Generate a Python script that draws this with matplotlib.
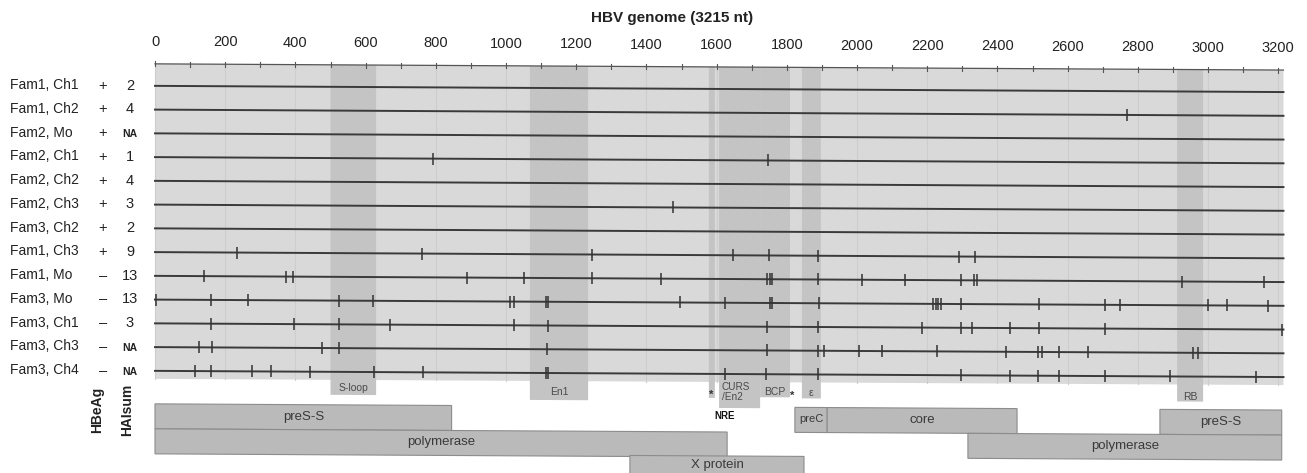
import numpy as np
import matplotlib
matplotlib.use("Agg")
import matplotlib.pyplot as plt
import matplotlib.transforms as mtransforms
from matplotlib.patches import Rectangle

plt.rcParams['font.family'] = ['Liberation Sans', 'DejaVu Sans']

# ---------------- data ----------------
GENOME_LEN = 3215
title = "HBV genome (3215 nt)"

samples = ["Fam1, Ch1", "Fam1, Ch2", "Fam2, Mo", "Fam2, Ch1", "Fam2, Ch2",
           "Fam2, Ch3", "Fam3, Ch2", "Fam1, Ch3", "Fam1, Mo", "Fam3, Mo",
           "Fam3, Ch1", "Fam3, Ch3", "Fam3, Ch4"]
hbeag = ["+", "+", "+", "+", "+", "+", "+", "+", "–", "–", "–", "–", "–"]
haisum = ["2", "4", "NA", "1", "4", "3", "2", "9", "13", "13", "3", "NA", "NA"]

mut_fam1_ch1 = []
mut_fam1_ch2 = [2769]
mut_fam2_mo = []
mut_fam2_ch1 = [792, 1746]
mut_fam2_ch2 = []
mut_fam2_ch3 = [1476]
mut_fam3_ch2 = []
mut_fam1_ch3 = [234, 762, 1245, 1647, 1749, 1889, 2291, 2336]
mut_fam1_mo = [140, 373, 393, 889, 1051, 1245, 1441, 1745, 1751, 1757, 1889,
               2014, 2137, 2296, 2333, 2341, 2926, 3160]
mut_fam3_mo = [3, 159, 265, 525, 622, 1011, 1023, 1114, 1121, 1496, 1624, 1751,
               1757, 1892, 2217, 2226, 2232, 2238, 2296, 2519, 2707, 2749, 3000,
               3054, 3171]
mut_fam3_ch1 = [159, 396, 524, 669, 1023, 1119, 1743, 1889, 2185, 2296, 2328,
                2436, 2519, 2707, 3211]
mut_fam3_ch3 = [126, 163, 475, 524, 1117, 1743, 1889, 1906, 2006, 2071, 2228,
                2424, 2517, 2527, 2575, 2658, 2957, 2972]
mut_fam3_ch4 = [114, 159, 277, 330, 441, 625, 764, 1113, 1120, 1624, 1741, 1889,
                2296, 2436, 2516, 2575, 2707, 2892, 3137]
mutations = [mut_fam1_ch1, mut_fam1_ch2, mut_fam2_mo, mut_fam2_ch1, mut_fam2_ch2,
             mut_fam2_ch3, mut_fam3_ch2, mut_fam1_ch3, mut_fam1_mo, mut_fam3_mo,
             mut_fam3_ch1, mut_fam3_ch3, mut_fam3_ch4]

region_names = ["S-loop", "En1", "", "CURS\n/En2", "BCP", "ε", "RB"]
region_start = [500, 1068, 1578, 1607, 1724, 1843, 2912]
region_end = [630, 1234, 1595, 1724, 1809, 1897, 2986]
star_pos = [1586, 1815]
nre_label = "NRE"

gene_names = ["preS-S", "polymerase", "X protein", "preC", "core", "polymerase", "preS-S"]
gene_start = [0, 0, 1353, 1823, 1915, 2316, 2863]
gene_end = [845, 1630, 1849, 1915, 2456, 3210, 3210]
gene_track = [0, 1, 2, 0, 0, 1, 0]

# ---------------- layout ----------------
W, H = 1307, 473
X0 = 155.0          # pixel of nt 0
S = 0.351           # pixels per nt

fig = plt.figure(figsize=(W / 100, H / 100), dpi=100)
ax = fig.add_axes([0, 0, 1, 1])
ax.set_xlim(-X0 / S, (W - X0) / S)
ax.set_ylim(H, 0)
ax.axis("off")

def px(p):
    return (p - X0) / S

# slight scan tilt of the original figure
skew = mtransforms.Affine2D().skew(0, -0.0055)
T = ax.transData + skew

BAND_TOP, BAND_BOT = 63, 378
ROW0, ROWSTEP = 85, 23.75
band_col = "#d9d9d9"
dark_col = "#c4c4c4"
gene_col = "#bababa"
txt_col = "#4a4a4a"

# background band
ax.add_patch(Rectangle((0, BAND_TOP), GENOME_LEN, BAND_BOT - BAND_TOP,
                       facecolor=band_col, edgecolor="none", transform=T, zorder=0))
# faint grid
for g in np.arange(0, 3201, 200):
    ax.plot([g, g], [BAND_TOP, BAND_BOT], color="#cdcdcd", lw=0.8, transform=T, zorder=1)

# region bands and their label tabs
tab_bottom = [393, 397, 394, 404, 393, 394, 395]
tab_text_y = [386, 389, 0, 388, 388, 389, 390]
for name, a, b, tb, ty in zip(region_names, region_start, region_end, tab_bottom, tab_text_y):
    ax.add_patch(Rectangle((a, BAND_TOP), b - a, tb - BAND_TOP, facecolor=dark_col,
                           edgecolor="none", transform=T, zorder=1))
    if name:
        if "\n" in name:
            ax.text(a + 8, ty, name, transform=T, fontsize=7.2, color=txt_col,
                    ha="left", va="center", linespacing=1.0, zorder=5)
        else:
            ax.text((a + b) / 2, ty, name, transform=T, fontsize=7.5, color=txt_col,
                    ha="center", va="center", zorder=5)
for sp in star_pos:
    ax.text(sp, 391, "*", transform=T, fontsize=8, color="#333333",
            ha="center", va="center", fontweight="bold", zorder=5)
ax.text(region_start[2] + 15, 412, nre_label, transform=T, fontsize=7,
        fontweight="bold", color="#111111", ha="left", va="center", zorder=5)

# top axis
ax.plot([0, GENOME_LEN], [BAND_TOP, BAND_TOP], color="#555555", lw=0.9, transform=T, zorder=3)
for t in np.arange(0, 3201, 100):
    ax.plot([t, t], [BAND_TOP - 2.5, BAND_TOP + 2.5], color="#555555", lw=0.8,
            transform=T, zorder=3)
for t in np.arange(0, 3201, 200):
    ax.text(t, 41, str(t), transform=T, fontsize=10.5, ha="center", va="center",
            color="#222222")
ax.text(px(672), 14, title, transform=T, fontsize=11, fontweight="bold",
        ha="center", va="center", color="#222222")

# sample rows
for i, (name, e, h, muts) in enumerate(zip(samples, hbeag, haisum, mutations)):
    y = ROW0 + i * ROWSTEP
    ax.plot([0, GENOME_LEN], [y, y], color="#3a3a3a", lw=1.4, transform=T, zorder=4)
    if muts:
        ax.vlines(muts, y - 6, y + 6, color="#333333", lw=1.1, transform=T, zorder=4)
    ax.text(px(10), y, name, transform=T, fontsize=10, ha="left", va="center",
            color="#222222")
    ax.text(px(103), y, e, transform=T, fontsize=10.5, ha="center", va="center",
            color="#222222")
    if h == "NA":
        ax.text(px(130), y + 1, h, transform=T, fontsize=7.5, fontweight="bold",
                ha="center", va="center", color="#222222")
    else:
        ax.text(px(130), y, h, transform=T, fontsize=10.5, ha="center", va="center",
                color="#222222")

ax.text(px(97), 409, "HBeAg", transform=T, fontsize=10, fontweight="bold",
        rotation=90, ha="center", va="center", color="#222222")
ax.text(px(127), 409, "HAIsum", transform=T, fontsize=10, fontweight="bold",
        rotation=90, ha="center", va="center", color="#222222")

# gene boxes
track_top = [403, 428, 452]
label_off = [12, 12, 9]
TRACK_H = 25
for name, a, b, tr in zip(gene_names, gene_start, gene_end, gene_track):
    top = track_top[tr]
    ax.add_patch(Rectangle((a, top), b - a, TRACK_H + (8 if tr == 2 else 0),
                           facecolor=gene_col, edgecolor="#8c8c8c", lw=0.8,
                           transform=T, zorder=2 + tr))
    ax.text((a + b) / 2, top + label_off[tr], name, transform=T,
            fontsize=9.5 if name != "preC" else 8,
            ha="center", va="center", color="#3a3a3a", zorder=6)

fig.savefig("out.png", dpi=100)
